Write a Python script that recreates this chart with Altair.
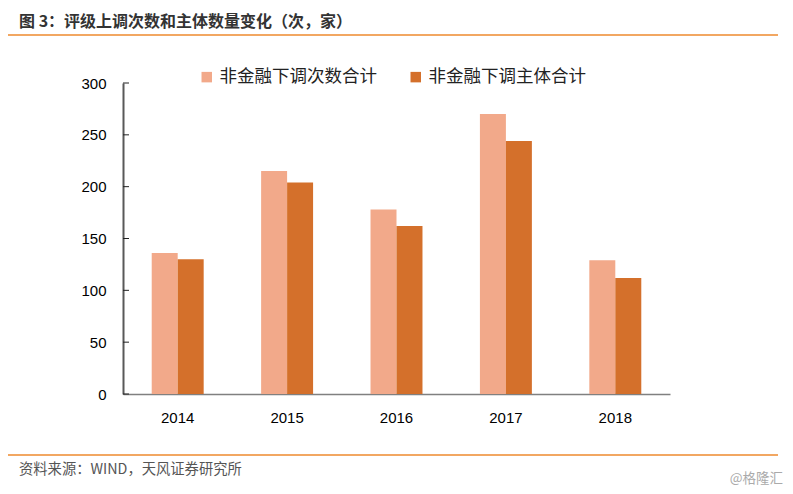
import altair as alt
import pandas as pd

years = ["2014", "2015", "2016", "2017", "2018"]
series_names = ["非金融下调次数合计", "非金融下调主体合计"]
counts = [136, 215, 178, 270, 129]
issuers = [130, 204, 162, 244, 112]
y_ticks = [0, 50, 100, 150, 200, 250, 300]
colors = ["#F2A98A", "#D4702B"]

rows = []
for i, y in enumerate(years):
    rows.append({"year": y, "series": series_names[0], "value": counts[i]})
    rows.append({"year": y, "series": series_names[1], "value": issuers[i]})
df = pd.DataFrame(rows)

FONT = "Noto Sans CJK SC"
NUMFONT = "Liberation Sans"
W, H = 547, 311

bars = alt.Chart(df).mark_bar().encode(
    x=alt.X("year:N", sort=years, title=None,
            scale=alt.Scale(paddingInner=0.525, paddingOuter=0.2625),
            axis=alt.Axis(labelAngle=0, ticks=False, labelFontSize=15, labelColor="#000",
                          labelFont=NUMFONT, labelPadding=16, domainColor="#808080", domainWidth=1.5)),
    xOffset=alt.XOffset("series:N", sort=series_names, scale=alt.Scale(paddingInner=0, paddingOuter=0)),
    y=alt.Y("value:Q", title=None,
            scale=alt.Scale(domain=[0, 300], nice=False),
            axis=alt.Axis(values=y_ticks, grid=False, ticks=False, labelFontSize=15, labelColor="#000",
                          labelFont=NUMFONT, labelPadding=17, domainColor="#595959", domainWidth=2)),
    color=alt.Color("series:N", sort=series_names,
                    scale=alt.Scale(domain=series_names, range=colors),
                    legend=alt.Legend(title=None, orient="none", direction="horizontal",
                                      legendX=75, legendY=-15, symbolType="square", symbolSize=110,
                                      symbolStrokeWidth=0, labelFontSize=17.5, labelFont=FONT,
                                      labelColor="#222", columnPadding=30, padding=0,
                                      symbolOpacity=1)),
)

ticks_df = pd.DataFrame({"v": y_ticks})
tick_marks = alt.Chart(ticks_df).mark_rule(color="#222", strokeWidth=1).encode(
    y=alt.Y("v:Q", scale=alt.Scale(domain=[0, 300], nice=False)),
    x=alt.value(0), x2=alt.value(6),
)

texts = pd.DataFrame({"k": [0]})
title = alt.Chart(texts).mark_text(text="图 3：评级上调次数和主体数量变化（次，家）", align="left",
                                   baseline="middle", fontSize=16, fontWeight="bold",
                                   font=FONT, color="#333").encode(x=alt.value(-104), y=alt.value(-61.5))
top_line = alt.Chart(texts).mark_rule(color="#EE8A2E", strokeWidth=1.5).encode(
    x=alt.value(-115), x2=alt.value(655), y=alt.value(-48))
bot_line = alt.Chart(texts).mark_rule(color="#EE8A2E", strokeWidth=1.5).encode(
    x=alt.value(-115), x2=alt.value(655), y=alt.value(372))
source = alt.Chart(texts).mark_text(text="资料来源：WIND，天风证券研究所", align="left",
                                    baseline="middle", fontSize=14.3, font=FONT,
                                    color="#555").encode(x=alt.value(-104), y=alt.value(387))
wm = alt.Chart(texts).mark_text(text="@格隆汇", align="right", baseline="middle", fontSize=13.5,
                                font=FONT, color="#aaa").encode(x=alt.value(660), y=alt.value(396))

chart = alt.layer(bars, tick_marks, title, top_line, bot_line, source, wm).properties(
    width=W, height=H,
    background="white",
    autosize=alt.AutoSizeParams(type="none"),
    padding={"left": 115, "top": 75, "right": 115, "bottom": 92},
).configure_view(strokeWidth=0, stroke="transparent")

chart.save("out.html", embed_options={"renderer": "svg", "actions": False})
